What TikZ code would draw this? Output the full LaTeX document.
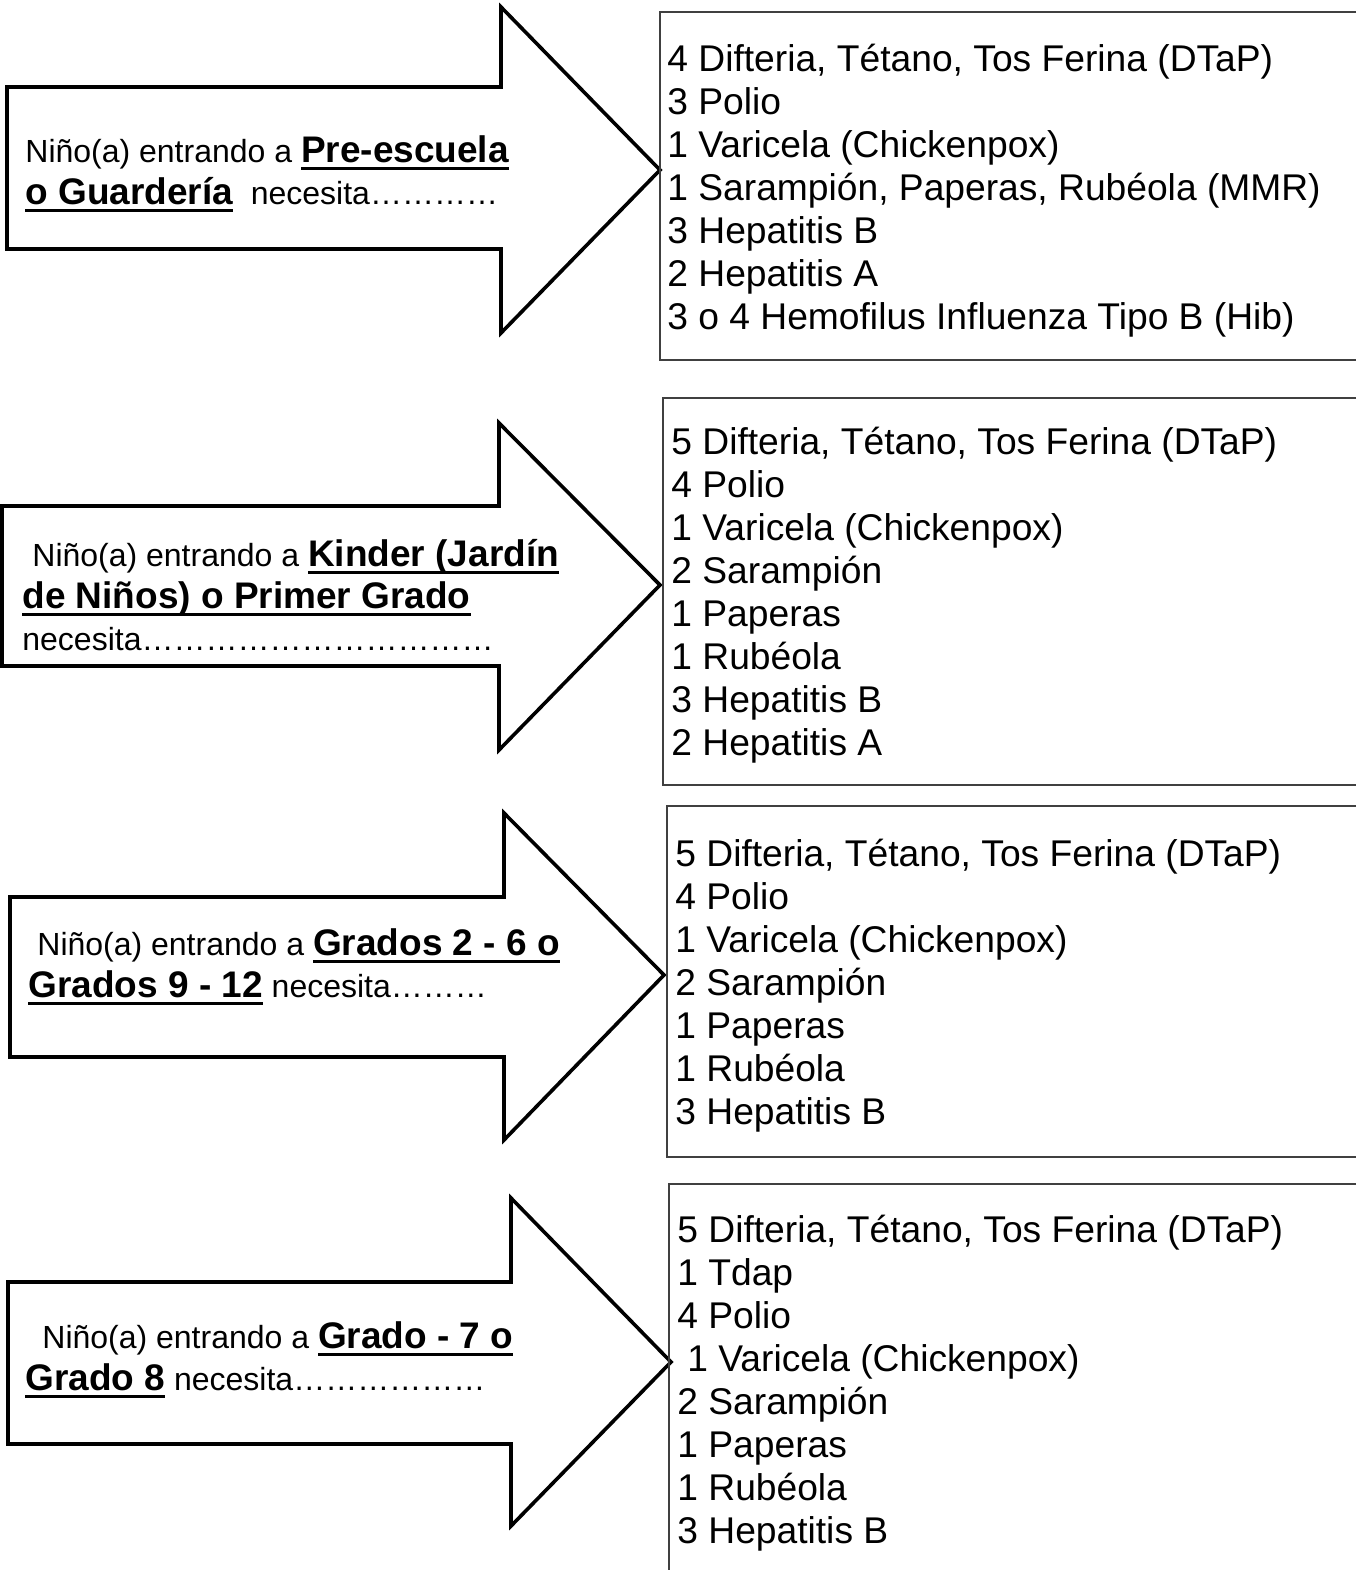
\documentclass[tikz,border=0pt]{standalone}
\usepackage{fontspec}
\setmainfont{Liberation Sans}
\usepackage{tikz}
\newcommand{\undl}[1]{\setbox0\hbox{#1}\rlap{\rule[-4pt]{\wd0}{1.5pt}}\box0}
\newcommand{\bld}{\fontsize{18.5}{21}\selectfont\bfseries}

\begin{document}
\begin{tikzpicture}[x=0.5pt,y=-0.5pt,
		every node/.style={inner sep=0pt,
			anchor=base west,
			align=left,
		},
		lead/.style={font=\fontsize{16}{21}\selectfont},
		vaccines/.style={font=\fontsize{18.6}{21.5}\selectfont},
		bigarrow/.style={draw, line width=1.8pt, miter limit=20},
		listbox/.style={draw=black!75, line width=0.8pt},
		]
		\useasboundingbox (0,0) rectangle (1356,1570);

		\draw[bigarrow] (7,87) -- (501,87) -- (501,7) -- (660,170) -- (501,333) -- (501,249) -- (7,249) -- cycle;
		\draw[bigarrow] (2,506) -- (499,506) -- (499,423) -- (660,585) -- (499,750) -- (499,666) -- (2,666) -- cycle;
		\draw[bigarrow] (10,897) -- (504,897) -- (504,813) -- (664,975) -- (504,1140) -- (504,1057) -- (10,1057) -- cycle;
		\draw[bigarrow] (8,1282) -- (511,1282) -- (511,1198) -- (671,1362) -- (511,1526) -- (511,1444) -- (8,1444) -- cycle;

		\draw[listbox] (1356,12) -| (660,360) -- (1356,360);
		\draw[listbox] (1356,398) -| (663,785) -- (1356,785);
		\draw[listbox] (1356,806) -| (667,1157) -- (1356,1157);
		\draw[listbox] (1356,1184) -| (669,1575);

		% base anchor sits on the last line
		\node (preschool) [lead] at (25,204) {Niño(a) entrando a {\bld\undl{Pre-escuela}}\\{\bld\undl{o Guardería}}\ \ necesita…………};
		\node (kinder) [lead] at (22,650) {\hspace*{5pt}Niño(a) entrando a {\bld\undl{Kinder (Jardín}}\\{\bld\undl{de Niños) o Primer Grado}}\\necesita……………………………};
		\node (grades) [lead] at (28,997) {\hspace*{4.5pt}Niño(a) entrando a {\bld\undl{Grados 2 - 6 o}}\\{\bld\undl{Grados 9 - 12}} necesita………};
		\node (seventh) [lead] at (25,1390) {\hspace*{8.5pt}Niño(a) entrando a {\bld\undl{Grado - 7 o}}\\{\bld\undl{Grado 8}} necesita………………};

		\node (preschoollist) [vaccines] at (667,329) {4 Difteria, Tétano, Tos Ferina (DTaP)\\3 Polio\\1 Varicela (Chickenpox)\\1 Sarampión, Paperas, Rubéola (MMR)\\3 Hepatitis B\\2 Hepatitis A\\3 o 4 Hemofilus Influenza Tipo B (Hib)};
		\node (kinderlist) [vaccines] at (671,755) {5 Difteria, Tétano, Tos Ferina (DTaP)\\4 Polio\\1 Varicela (Chickenpox)\\2 Sarampión\\1 Paperas\\1 Rubéola\\3 Hepatitis B\\2 Hepatitis A};
		\node (gradeslist) [vaccines] at (675,1124) {5 Difteria, Tétano, Tos Ferina (DTaP)\\4 Polio\\1 Varicela (Chickenpox)\\2 Sarampión\\1 Paperas\\1 Rubéola\\3 Hepatitis B};
		\node (seventhlist) [vaccines] at (677,1543) {5 Difteria, Tétano, Tos Ferina (DTaP)\\1 Tdap\\4 Polio\\\hspace*{5pt}1 Varicela (Chickenpox)\\2 Sarampión\\1 Paperas\\1 Rubéola\\3 Hepatitis B};

	\end{tikzpicture}
\end{document}
